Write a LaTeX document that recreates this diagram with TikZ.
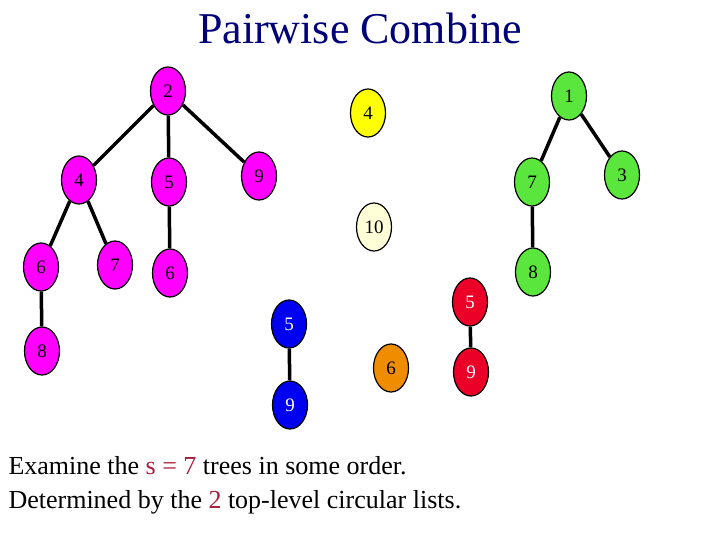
\documentclass[tikz,border=0pt]{standalone}
\usepackage{fontspec}
\setmainfont{Liberation Serif}
\usetikzlibrary{shapes.geometric}
\definecolor{mag}{RGB}{255,0,255}
\definecolor{grn}{RGB}{90,230,60}
\definecolor{yel}{RGB}{255,255,0}
\definecolor{crm}{RGB}{255,255,215}
\definecolor{rd}{RGB}{235,0,40}
\definecolor{bl}{RGB}{0,0,240}
\definecolor{org}{RGB}{240,140,0}
\definecolor{navy}{RGB}{0,0,120}
\definecolor{dred}{RGB}{170,30,60}
\tikzset{x=1pt,y=-1pt,
 nd/.style={ellipse,draw=black,line width=1.2pt,minimum width=35pt,minimum height=48pt,inner sep=0pt,font=\fontsize{19}{19}\selectfont},
 ed/.style={line width=3.5pt}}
\begin{document}
\begin{tikzpicture}
\useasboundingbox (0,0) rectangle (720,540);
\node[text=navy,font=\fontsize{44}{44}\selectfont] (title) at (360,28) {Pairwise Combine};
\node[nd,fill=mag] (a2) at (168,91) {2};
\node[nd,fill=mag] (a4) at (79,180) {4};
\node[nd,fill=mag] (a5) at (169,182) {5};
\node[nd,fill=mag] (a9) at (259,176) {9};
\node[nd,fill=mag] (a6) at (41,267) {6};
\node[nd,fill=mag] (a7) at (115,265) {7};
\node[nd,fill=mag] (a6b) at (170,273) {6};
\node[nd,fill=mag] (a8) at (42,351) {8};
\node[nd,fill=yel] (y4) at (368,113) {4};
\node[nd,fill=crm] (c10) at (374,227) {10};
\node[nd,fill=grn] (g1) at (569,96) {1};
\node[nd,fill=grn] (g7) at (532,182) {7};
\node[nd,fill=grn] (g3) at (622,175) {3};
\node[nd,fill=grn] (g8) at (533,272) {8};
\node[nd,fill=rd,text=white] (r5) at (470,302) {5};
\node[nd,fill=rd,text=white] (r9) at (471,372) {9};
\node[nd,fill=bl,text=white] (b5) at (289,324) {5};
\node[nd,fill=bl,text=white] (b9) at (290,405) {9};
\node[nd,fill=org] (o6) at (391,368) {6};
\draw[ed] (a2)--(a4); \draw[ed] (a2)--(a5); \draw[ed] (a2)--(a9);
\draw[ed] (a4)--(a6); \draw[ed] (a4)--(a7); \draw[ed] (a5)--(a6b);
\draw[ed] (a6)--(a8);
\draw[ed] (g1)--(g7); \draw[ed] (g1)--(g3); \draw[ed] (g7)--(g8);
\draw[ed] (r5)--(r9); \draw[ed] (b5)--(b9);
\node[anchor=west,font=\fontsize{26}{26}\selectfont] (t1) at (5,466) {Examine the \textcolor{dred}{s = 7} trees in some order.};
\node[anchor=west,font=\fontsize{26}{26}\selectfont] (t2) at (5,502) {Determined by the \textcolor{dred}{2} top-level circular lists.};
\end{tikzpicture}
\end{document}
